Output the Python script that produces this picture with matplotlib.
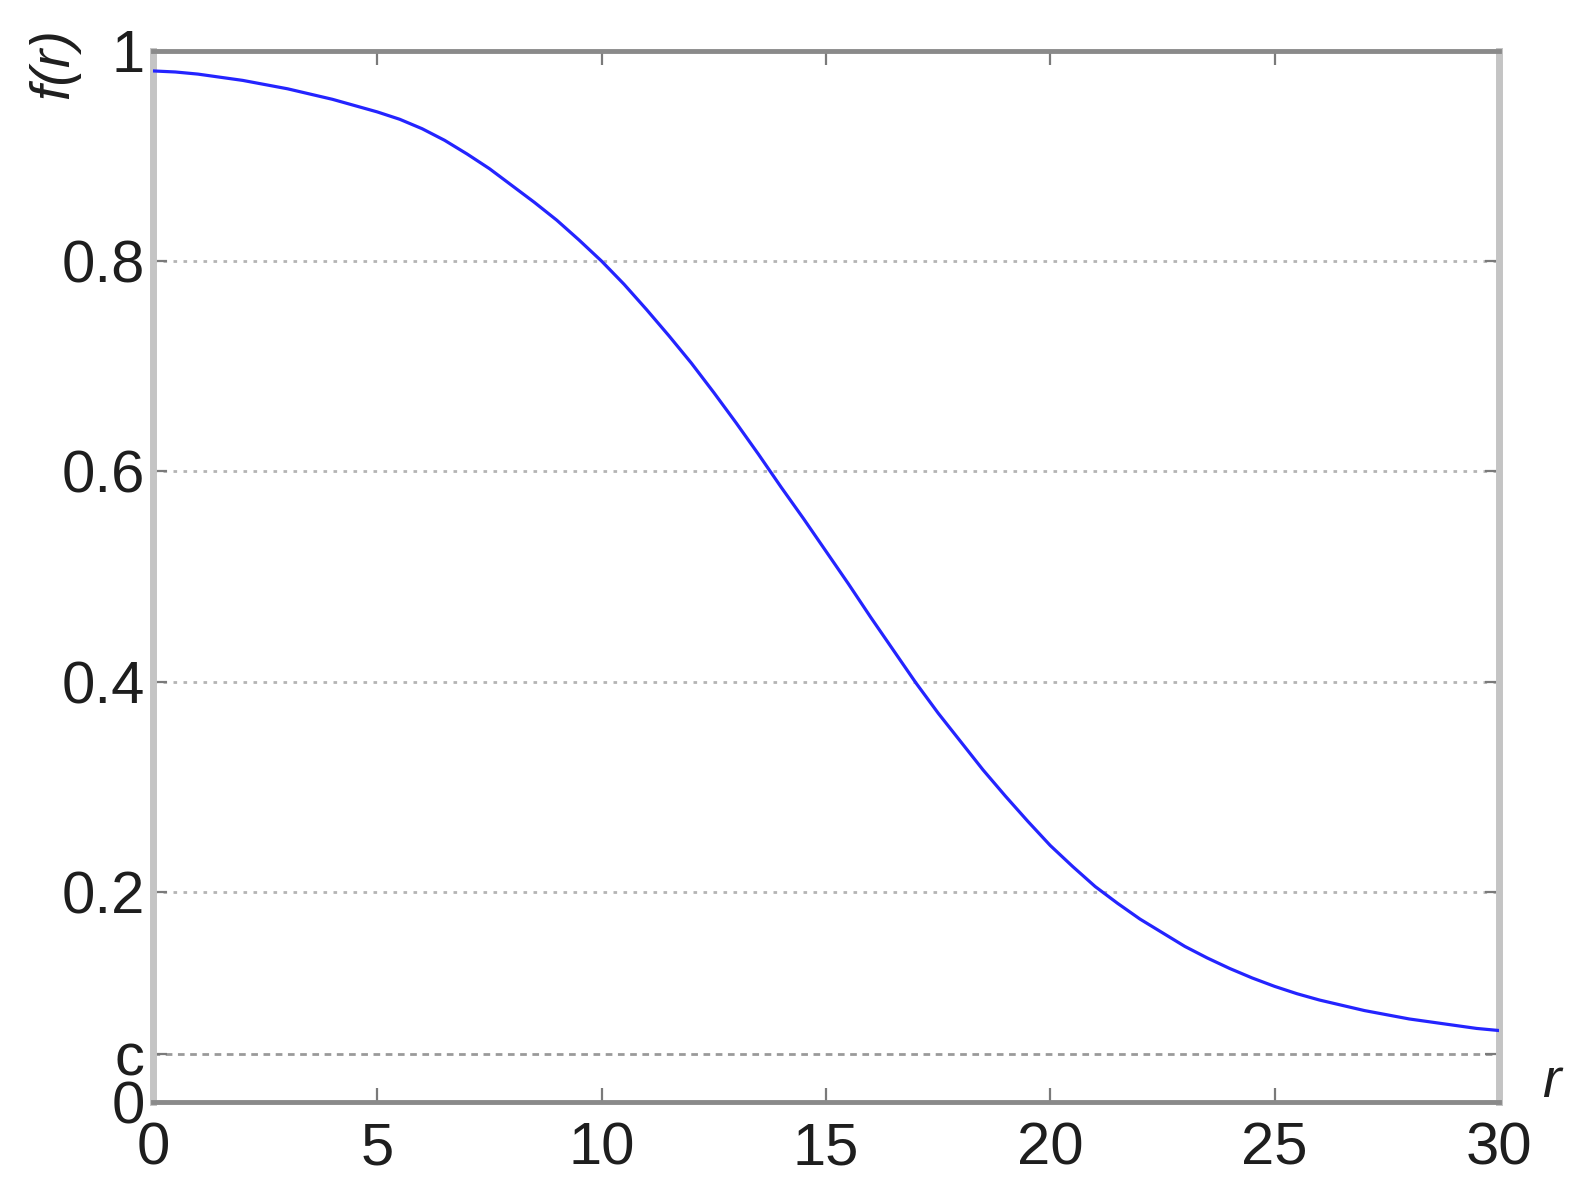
import matplotlib
matplotlib.use('Agg')
import matplotlib.pyplot as plt
import numpy as np

# values, every half unit of r
r_vals = np.arange(0, 30.5, 0.5)
f_vals = [0.981, 0.980, 0.978, 0.975, 0.972, 0.968, 0.964, 0.959, 0.954, 0.948,
          0.942, 0.935, 0.926, 0.915, 0.902, 0.888, 0.872, 0.856, 0.839, 0.820,
          0.800, 0.778, 0.754, 0.729, 0.703, 0.675, 0.646, 0.616, 0.585, 0.555,
          0.524, 0.493, 0.461, 0.430, 0.399, 0.370, 0.343, 0.316, 0.291, 0.267,
          0.244, 0.224, 0.205, 0.189, 0.174, 0.161, 0.148, 0.137, 0.127, 0.118,
          0.110, 0.103, 0.097, 0.092, 0.087, 0.083, 0.079, 0.076, 0.073, 0.070,
          0.068]
c_level = 0.046
grid_levels = [0.2, 0.4, 0.6, 0.8]
ytick_vals = [0, c_level, 0.2, 0.4, 0.6, 0.8, 1]
ytick_labels = ['0', 'c', '0.2', '0.4', '0.6', '0.8', '1']
xtick_vals = [0, 5, 10, 15, 20, 25, 30]

plt.rcParams['font.family'] = ['Liberation Sans', 'DejaVu Sans']

fig = plt.figure(figsize=(15.95, 12.02), dpi=100)
ax = fig.add_axes([0.0959, 0.0832, 0.8439, 0.8744])

# dotted grid, horizontal only
for g in grid_levels:
    ax.axhline(g, color='#b4b4b4', lw=2.0, ls=(0, (1.3, 2.3)), zorder=1)
# dashed level c
ax.axhline(c_level, color='#9a9a9a', lw=2.0, ls=(0, (2.4, 2.0)), zorder=1)

ax.plot(r_vals, f_vals, color='#2424ff', lw=2.3, zorder=3)

ax.set_xlim(0, 30)
ax.set_ylim(0, 1)
ax.set_xticks(xtick_vals)
ax.set_xticklabels([str(v) for v in xtick_vals])
ax.set_yticks(ytick_vals)
ax.set_yticklabels(ytick_labels)

ax.tick_params(direction='in', length=10, width=1.6, color='#7a7a7a',
               labelsize=43, labelcolor='#1e1e1e', top=True, right=True)
ax.tick_params(axis='x', pad=14)
ax.tick_params(axis='y', pad=6)

# c and 0 sit close together, spread them a touch
for lbl in ax.get_yticklabels():
    if lbl.get_text() == 'c':
        lbl.set_y(c_level + 0.010)
    elif lbl.get_text() == '0':
        lbl.set_y(-0.006)

for side in ['left', 'right']:
    ax.spines[side].set_color('#c4c4c4')
    ax.spines[side].set_linewidth(5)
for side in ['top', 'bottom']:
    ax.spines[side].set_color('#8a8a8a')
    ax.spines[side].set_linewidth(3.5)

fig.text(54 / 1595, 1 - 64 / 1202, 'f(r)', rotation=90, style='italic',
         fontsize=40, color='#1e1e1e', ha='center', va='center')
fig.text(1551 / 1595, 1 - 1083 / 1202, 'r', style='italic',
         fontsize=40, color='#1e1e1e', ha='center', va='center')

fig.savefig('out.png', dpi=100, facecolor='white')
